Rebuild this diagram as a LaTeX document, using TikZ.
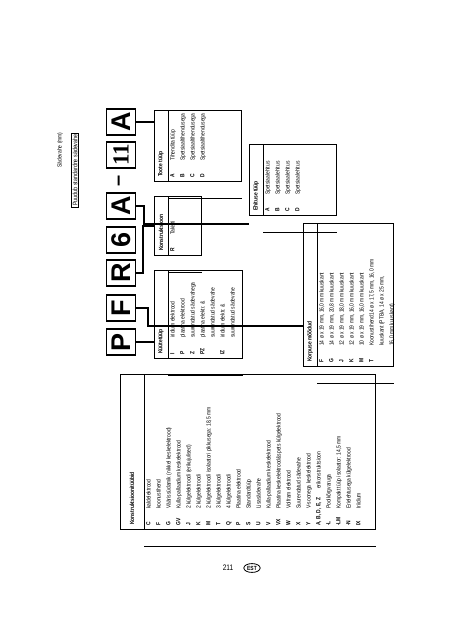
\documentclass[tikz,border=0pt]{standalone}
\usepackage{fontspec}
\usepackage{graphicx}
\usetikzlibrary{shapes.geometric}
\setmainfont{Liberation Sans}[FakeStretch=0.82]
\newfontfamily\bigsans{Liberation Sans}
\newfontfamily\bigserif{Liberation Serif}
\begin{document}
\begin{tikzpicture}[x=1pt,y=-1pt,
  bigbox/.style={draw,line width=1.2pt,minimum width=29pt,minimum height=26pt,inner sep=0pt,font=\bigsans\fontsize{27}{27}\selectfont\bfseries},
  tframe/.style={draw,line width=0.8pt,anchor=north west,inner sep=0pt},
  conn/.style={line width=1.6pt},
  sep/.style={line width=0.8pt},
  hdr/.style={rotate=90,anchor=west,inner sep=0pt,font=\fontsize{6}{6}\selectfont\bfseries},
  rows/.style={rotate=90,anchor=north west,inner sep=0pt,align=left,font=\fontsize{6}{10}\selectfont},
  codes/.style={rotate=90,anchor=north west,inner sep=0pt,align=left,font=\fontsize{6}{10}\selectfont\bfseries}]
\useasboundingbox (0,0) rectangle (452,640);
% big code boxes
\node[bigbox] (bA2) at (121,122) {\rotatebox{90}{A}};
\node[bigbox,font=\bigserif\fontsize{23}{23}\selectfont\bfseries] (b11) at (121,155) {\rotatebox{90}{11}};
\node[font=\bigsans\fontsize{20}{20}\selectfont\bfseries,inner sep=0pt] (bdash) at (121,181) {\rotatebox{90}{–}};
\node[bigbox] (bA1) at (121,206) {\rotatebox{90}{A}};
\node[bigbox] (b6) at (121,240) {\rotatebox{90}{6}};
\node[bigbox] (bR) at (121,273) {\rotatebox{90}{R}};
\node[bigbox] (bF) at (121,308) {\rotatebox{90}{F}};
\node[bigbox] (bP) at (121,342) {\rotatebox{90}{P}};
% table frames
\node[tframe,minimum width=87pt,minimum height=71pt] (toote) at (154,110) {};
\node[tframe,minimum width=87pt,minimum height=71pt] (ehit) at (249,144) {};
\node[tframe,minimum width=47pt,minimum height=59pt] (konst) at (154,196) {};
\node[tframe,minimum width=88pt,minimum height=88pt] (kyyt) at (154,270) {};
\node[tframe,minimum width=90pt,minimum height=143pt] (korp) at (303,223) {};
\node[tframe,minimum width=255pt,minimum height=155pt] (ktyyb) at (120,374) {};
% separators
\foreach \t in {toote,ehit,konst,kyyt,korp}{
  \draw[sep] ([xshift=14pt]\t.north west) -- ([xshift=14pt]\t.south west);
  \draw[sep] ([xshift=14pt,yshift=-17pt]\t.south west) -- ([yshift=-17pt]\t.south east);
}
\draw[sep] ([xshift=24pt]ktyyb.north west) -- ([xshift=24pt]ktyyb.south west);
\draw[sep] ([xshift=24pt,yshift=-17pt]ktyyb.south west) -- ([yshift=-17pt]ktyyb.south east);
% connectors
\draw[conn] (bA2.east) -- (bA2.east -| toote.west);
\draw[conn] (bA1.east) -- ++(8,0) |- ([yshift=-44pt]ehit.west);
\draw[conn] (bR.east) -- ++(7,0) |- (konst.west);
\draw[conn] (bF.east) -- ++(12,0) |- ([yshift=-31pt]korp.west);
\draw[conn] (bP.east) -- (bP.east -| kyyt.west);
% headers
\node[hdr] (htoote) at (161,177) {Toote tüüp};
\node[hdr] (hehit) at (256,211) {Ehituse tüüp};
\node[hdr] (hkonst) at (161,251) {Konstruktsioon};
\node[hdr] (hkyyt) at (161,354) {Küütetüüp};
\node[hdr] (hkorp) at (310,362) {Korpuse mõõdud};
\node[hdr] (hktyyb) at (132,525) {Konstruktsioonitüübid};
% Toote
\node[codes] (ctoote) at (170,178) {A\\B\\C\\D};
\node[rows] (rtoote) at (170,161) {Tihendita tüüp\\Spetsiaaltihendusega\\Spetsiaaltihendusega\\Spetsiaaltihendusega};
% Ehituse
\node[codes] (cehit) at (265,212) {A\\B\\C\\D};
\node[rows] (rehit) at (265,195) {Spetsiaalehitus\\Spetsiaalehitus\\Spetsiaalehitus\\Spetsiaalehitus};
% Konstruktsioon
\node[codes] (ckonst) at (170,252) {R};
\node[rows] (rkonst) at (170,235) {Takisti};
% Kyyte
\node[codes] (ckyyt) at (170,355) {I\\P\\Z\\PZ\\[10pt]IZ};
\node[rows] (rkyyt) at (170,338) {iridium elektrood\\plaatina elektrood\\suurendatud sädevahega\\plaatina elektr. \&\\suurendatud sädevahe\\iridium elektr. \&\\suurendatud sädevahe};
% Korpuse
\node[codes] (ckorp) at (319,363) {F\\G\\J\\K\\M\\T};
\node[rows] (rkorp) at (319,346) {14 ø x 19 mm, 16,0 mm kuuskant\\14 ø x 19 mm, 20,8 mm kuuskant\\12 ø x 19 mm, 18,0 mm kuuskant\\12 ø x 19 mm, 16,0 mm kuuskant\\10 ø x 19 mm, 16,0 mm kuuskant\\Koonustihend14 ø x 17,5 mm, 16,0 mm\\kuuskant (PTBA, 14 ø x 25 mm,\\16,0 mm kuuskant)};
% Konstruktsioonituubid
\node[codes] (cktyyb) at (146,526) {C\\F\\G\\GV\\J\\K\\M\\T\\Q\\P\\S\\U\\V\\VX\\W\\X\\Y\\A, B, D, E, Z\\-L\\-LM\\-N\\IX};
\node[rows] (rktyyb) at (146,509) {kaldelektrood\\koonustihend\\Väärissüdamik (nikkel keskelektrood)\\Kulla-pallaadium keskelektrood\\2 külgelektroodi (erikujulised)\\2 külgelektroodi\\2 külgelektroodi isolaatori pikkusega: 18,5 mm\\3 külgelektroodi\\4 külgelektroodi\\Plaatina elektrood\\Standardtüüp\\Lisasädevahe\\Kulla-pallaadium keskelektrood\\Plaatina keskelektrood\&spets külgelektrood\\Volfram elektrood\\Suurendatud sädevahe\\V-soonega keskelektrood\\\hspace{20pt}erikonstruktsioon\\Poolkõrgvaruga\\Kompakt tüüp isolaator: 14,5 mm\\Erielehtusega külgelektrood\\Iriidium};
% spark gap
\node[rotate=90,font=\fontsize{6}{6}\selectfont] (sgap) at (60,150) {Sädevahe (mm)};
\node[draw,line width=0.8pt,rotate=90,inner sep=1.5pt,font=\fontsize{6.5}{6.5}\selectfont] (sgbox) at (75,170) {Puudub standardne sädevahe};
% page number
\node[font=\fontsize{8}{8}\selectfont] (pnum) at (228,568) {211};
\node[draw,ellipse,line width=0.8pt,inner sep=1pt,font=\fontsize{6}{6}\selectfont\bfseries] (est) at (252,568) {EST};
\end{tikzpicture}
\end{document}
